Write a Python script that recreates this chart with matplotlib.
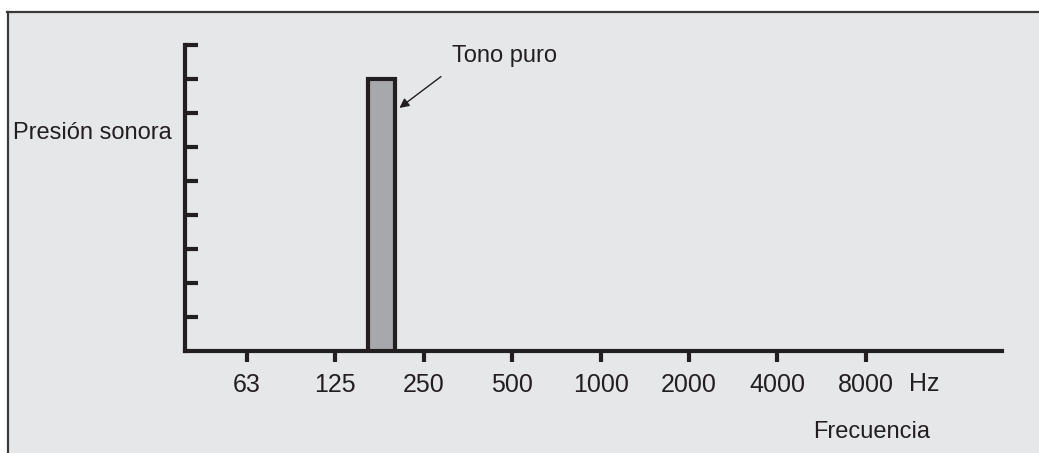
import matplotlib.pyplot as plt
import numpy as np
from matplotlib.patches import Rectangle
from matplotlib.lines import Line2D

plt.rcParams['font.family'] = ['Liberation Sans Narrow', 'Liberation Sans', 'DejaVu Sans']

freq_labels = ['63', '125', '250', '500', '1000', '2000', '4000', '8000']
tone_pos = 1.52     # pure tone between 125 and 250 Hz
tone_level = 8
y_ticks = [1, 2, 3, 4, 5, 6, 7, 8, 9]

ink = '#231F20'
bg = '#E6E7E9'

W, H = 1039, 453
fig = plt.figure(figsize=(W / 100, H / 100), dpi=100)
fig.patch.set_facecolor('white')

# grey panel with top/left rule
fig.patches.append(Rectangle((7 / W, 0), 1 - 7 / W, 1 - 11 / H, transform=fig.transFigure,
                             facecolor=bg, edgecolor='none', zorder=-2))
fig.lines.append(Line2D([7 / W, 1], [1 - 11.5 / H, 1 - 11.5 / H], transform=fig.transFigure,
                        color='#3a3a3a', lw=1.6, zorder=-1))
fig.lines.append(Line2D([7.5 / W, 7.5 / W], [0, 1 - 11.5 / H], transform=fig.transFigure,
                        color='#3a3a3a', lw=1.6, zorder=-1))

ax = fig.add_axes([185 / W, 102 / H, (1002 - 185) / W, (351 - 45) / H])
ax.set_facecolor('none')
ax.set_zorder(2)

x = np.arange(len(freq_labels))
ax.bar(tone_pos, tone_level, width=0.31, facecolor='#A7A8AB', edgecolor=ink, linewidth=3, zorder=3)

ax.set_xlim(-0.70, 8.54)
ax.set_ylim(0, 9)
ax.set_xticks(x)
ax.set_xticklabels(freq_labels, fontsize=18, color=ink)
ax.set_yticks(y_ticks)
ax.set_yticklabels([])
ax.tick_params(axis='x', direction='out', length=8, width=3, color=ink, pad=8)
ax.tick_params(axis='y', direction='in', length=9, width=3, color=ink)
for s in ['top', 'right']:
    ax.spines[s].set_visible(False)
for s in ['left', 'bottom']:
    ax.spines[s].set_linewidth(3)
    ax.spines[s].set_color(ink)

ax.annotate('', xy=(1.70, 7.1), xytext=(2.22, 8.12),
            arrowprops=dict(arrowstyle='-|>', color=ink, lw=1, mutation_scale=14))
ax.text(2.32, 8.68, 'Tono puro', fontsize=17, color=ink, ha='left', va='center')

fig.text(172 / W, 1 - 133 / H, 'Presión sonora', fontsize=17, color=ink, ha='right', va='center')
fig.text(924 / W, 1 - 384 / H, 'Hz', fontsize=18, color=ink, ha='center', va='center')
fig.text(872 / W, 1 - 432 / H, 'Frecuencia', fontsize=17, color=ink, ha='center', va='center')

plt.savefig('out.png', dpi=100)
